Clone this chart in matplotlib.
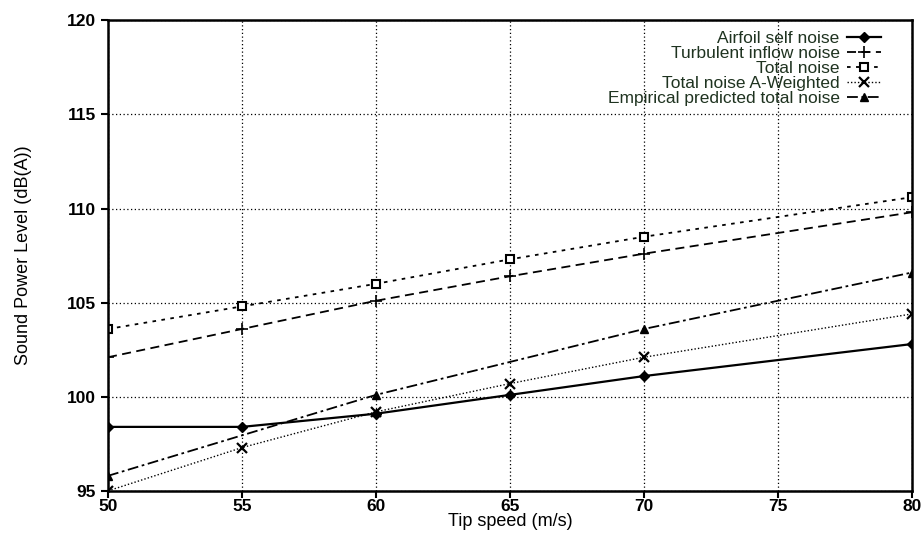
import matplotlib.pyplot as plt

plt.rcParams["font.family"] = ["Liberation Sans", "DejaVu Sans"]

# === ข้อมูล
tip_speed = [50, 55, 60, 65, 70, 80]
airfoil_self = [98.4, 98.4, 99.1, 100.1, 101.1, 102.8]
turbulent_inflow = [102.1, 103.6, 105.1, 106.4, 107.6, 109.8]
total_noise = [103.6, 104.8, 106.0, 107.3, 108.5, 110.6]
total_a_weighted = [95.0, 97.3, 99.2, 100.7, 102.1, 104.4]
empirical_speed = [50, 60, 70, 80]
empirical_total = [95.8, 100.1, 103.6, 106.6]

x_ticks = [50, 55, 60, 65, 70, 75, 80]
y_ticks = [95, 100, 105, 110, 115, 120]

fig = plt.figure(figsize=(9.23, 5.33), dpi=100)
ax = fig.add_axes([0.117, 0.079, 0.871, 0.883])

ink = "black"
ax.plot(tip_speed, airfoil_self, color=ink, lw=1.6, ls="-", marker="D",
        ms=5, label="Airfoil self noise")
ax.plot(tip_speed, turbulent_inflow, color=ink, lw=1.3, ls=(0, (5, 3)),
        marker="+", ms=8, mew=1.2, label="Turbulent inflow noise")
ax.plot(tip_speed, total_noise, color=ink, lw=1.3, ls=(0, (2, 3)),
        marker="s", ms=6, mfc="white", mew=1.5, label="Total noise")
ax.plot(tip_speed, total_a_weighted, color=ink, lw=1.0, ls=(0, (1, 1.5)),
        marker="x", ms=7, mew=1.6, label="Total noise A-Weighted")
ax.plot(empirical_speed, empirical_total, color=ink, lw=1.3,
        ls=(0, (6, 2, 1.5, 2)), marker="^", ms=6,
        label="Empirical predicted total noise")

ax.set_xlim(50, 80)
ax.set_ylim(95, 120)
ax.set_xticks(x_ticks)
ax.set_yticks(y_ticks)
ax.grid(True, color="black", ls=(0, (1, 2)), lw=0.9)

for s in ax.spines.values():
    s.set_linewidth(1.8)
ax.tick_params(direction="out", length=5, width=1.5, labelsize=12.5)
for lbl in ax.get_xticklabels() + ax.get_yticklabels():
    lbl.set_fontweight("bold")
ax.tick_params(axis="x", pad=1)

ax.set_xlabel("Tip speed (m/s)", fontsize=13, labelpad=-1)
ax.set_ylabel("Sound Power Level (dB(A))", fontsize=13, labelpad=25)

# === legend: ข้อความอยู่ซ้าย เส้นอยู่ขวา
leg = ax.legend(loc="upper right", bbox_to_anchor=(0.975, 1.0),
                markerfirst=False, frameon=False, fontsize=12.5,
                handlelength=2.0, handletextpad=0.4, labelspacing=0.0,
                borderaxespad=0.2)
for t in leg.get_texts():
    t.set_color("#1f3320")

plt.savefig("out.png", dpi=100)
plt.close()
